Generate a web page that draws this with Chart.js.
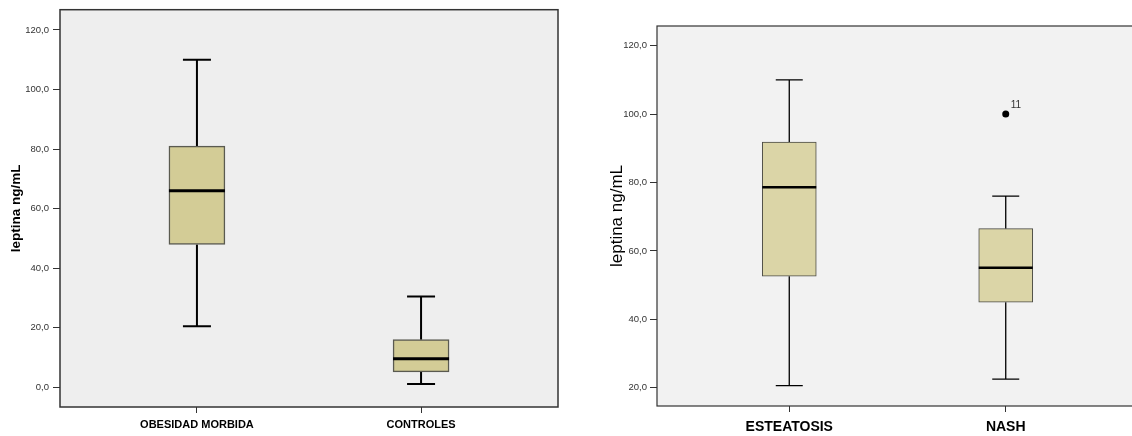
<!DOCTYPE html>
<html>
<head>
<meta charset="utf-8">
<script src="https://cdn.jsdelivr.net/npm/chart.js@4/dist/chart.umd.min.js"></script>
<style>
  html, body { margin: 0; padding: 0; background: #fff; overflow: hidden; width: 1132px; height: 436px; }
  canvas { position: absolute; top: 0; }
  #left { left: 0; }
  #right { left: 566px; }
</style>
</head>
<body>
<canvas id="left" width="566" height="436"></canvas>
<canvas id="right" width="580" height="436"></canvas>
<script>
// Leptin (ng/mL) by group: morbid obesity vs controls
const leftCategories = ['OBESIDAD MORBIDA', 'CONTROLES'];
const leftMin    = [20.5, 1.1];
const leftQ1     = [48.0, 5.2];
const leftMedian = [66.0, 9.6];
const leftQ3     = [81.0, 16.0];
const leftMax    = [110.0, 30.5];
const leftTicks  = [0, 20, 40, 60, 80, 100, 120];

// Leptin (ng/mL) by liver histology: steatosis vs NASH
const rightCategories = ['ESTEATOSIS', 'NASH'];
const rightMin    = [20.6, 22.5];
const rightQ1     = [52.6, 45.0];
const rightMedian = [78.6, 55.1];
const rightQ3     = [91.8, 66.5];
const rightMax    = [110.0, 76.0];
const rightTicks  = [20, 40, 60, 80, 100, 120];

// outlying cases (category index, value, case number)
const rightOutlierCategory = [1];
const rightOutlierValue    = [100.0];
const rightOutlierCase     = ['11'];

const axisTitle = 'leptina ng/mL';
const fmt = v => v.toFixed(1).replace('.', ',');

function boxChart(canvasId, s) {
  const boxes = s.categories.map((c, i) => ({ x: i, y: [s.q1[i], s.q3[i]] }));
  const outliers = (s.outCat || []).map((c, i) => ({ x: c, y: s.outVal[i] }));

  const boxPlugin = {
    id: 'boxParts',
    beforeDraw(chart) {
      const a = chart.chartArea, ctx = chart.ctx;
      ctx.save();
      ctx.fillStyle = s.plotBg;
      ctx.fillRect(a.left, a.top, a.right - a.left, a.bottom - a.top);
      ctx.restore();
    },
    beforeDatasetsDraw(chart) {
      const x = chart.scales.x, y = chart.scales.y, ctx = chart.ctx;
      ctx.save();
      ctx.strokeStyle = '#000';
      ctx.lineWidth = s.whiskerWidth;
      s.categories.forEach((c, i) => {
        const px = x.getPixelForValue(i);
        const half = s.capWidth / 2;
        const yMin = y.getPixelForValue(s.min[i]);
        const yMax = y.getPixelForValue(s.max[i]);
        ctx.beginPath();
        ctx.moveTo(px, y.getPixelForValue(s.q3[i])); ctx.lineTo(px, yMax);
        ctx.moveTo(px, y.getPixelForValue(s.q1[i])); ctx.lineTo(px, yMin);
        ctx.moveTo(px - half, yMax); ctx.lineTo(px + half, yMax);
        ctx.moveTo(px - half, yMin); ctx.lineTo(px + half, yMin);
        ctx.stroke();
      });
      ctx.restore();
    },
    afterDatasetsDraw(chart) {
      const x = chart.scales.x, y = chart.scales.y, ctx = chart.ctx, a = chart.chartArea;
      ctx.save();
      ctx.strokeStyle = '#000';
      ctx.lineWidth = s.medianWidth;
      s.categories.forEach((c, i) => {
        const px = x.getPixelForValue(i);
        const half = s.boxWidth / 2;
        const py = y.getPixelForValue(s.median[i]);
        ctx.beginPath();
        ctx.moveTo(px - half, py); ctx.lineTo(px + half, py);
        ctx.stroke();
      });
      // case labels beside outliers
      ctx.fillStyle = '#333';
      ctx.font = '10px "Liberation Sans", Arial, sans-serif';
      ctx.textAlign = 'left';
      ctx.textBaseline = 'middle';
      (s.outCat || []).forEach((c, i) => {
        ctx.fillText(s.outCase[i], x.getPixelForValue(c) + 5, y.getPixelForValue(s.outVal[i]) - 9);
      });
      // plot frame
      ctx.strokeStyle = s.frameColor;
      ctx.lineWidth = s.frameWidth;
      ctx.strokeRect(a.left, a.top, a.right - a.left, a.bottom - a.top);
      ctx.restore();
    }
  };

  return new Chart(document.getElementById(canvasId), {
    type: 'bar',
    data: {
      datasets: [
        {
          data: boxes,
          backgroundColor: s.boxFill,
          borderColor: s.boxBorder,
          borderWidth: s.boxBorderWidth,
          borderSkipped: false,
          barThickness: s.boxWidth,
          grouped: false
        },
        {
          type: 'scatter',
          data: outliers,
          pointRadius: 3.5,
          pointBackgroundColor: '#000',
          pointBorderWidth: 0,
          showLine: false
        }
      ]
    },
    options: {
      responsive: false,
      animation: false,
      devicePixelRatio: 1,
      layout: { padding: s.padding },
      plugins: { legend: { display: false }, tooltip: { enabled: false } },
      scales: {
        x: {
          type: 'linear',
          offset: false,
          min: -0.611, max: 1.611,
          afterBuildTicks: sc => { sc.ticks = s.categories.map((c, i) => ({ value: i })); },
          afterFit: sc => { sc.height = s.xHeight; },
          grid: { offset: false, drawOnChartArea: false, drawTicks: true, tickLength: 6, tickColor: '#333', tickWidth: 1 },
          border: { display: false },
          ticks: {
            callback: v => s.categories[v],
            autoSkip: false,
            maxRotation: 0,
            padding: s.xPad,
            color: '#000',
            font: { family: '"Liberation Sans", Arial, sans-serif', size: s.xFont, weight: 'bold' }
          }
        },
        y: {
          min: s.yMin, max: s.yMax,
          afterBuildTicks: sc => { sc.ticks = s.ticks.map(v => ({ value: v })); },
          afterFit: sc => { sc.width = s.yWidth; },
          grid: { drawOnChartArea: false, drawTicks: true, tickLength: s.yTickLen, tickColor: '#333', tickWidth: 1 },
          border: { display: false },
          ticks: {
            callback: v => fmt(v),
            padding: s.yPad,
            color: '#333',
            font: { family: '"Liberation Sans", Arial, sans-serif', size: 9.5 }
          },
          title: {
            display: true,
            text: axisTitle,
            color: '#000',
            padding: { top: s.titlePad, bottom: 0 },
            font: { family: '"Liberation Sans", Arial, sans-serif', size: s.titleFont, weight: s.titleWeight }
          }
        }
      }
    },
    plugins: [boxPlugin]
  });
}

boxChart('left', {
  categories: leftCategories, min: leftMin, q1: leftQ1, median: leftMedian, q3: leftQ3, max: leftMax,
  ticks: leftTicks, yMin: -6.6, yMax: 126.8,
  padding: { left: 0, top: 9, right: 8, bottom: 0 }, yWidth: 60, xHeight: 29,
  plotBg: '#eeeeee', boxFill: '#d3cc96', boxBorder: '#5a5a50', boxBorderWidth: 1.5,
  boxWidth: 56, capWidth: 28, whiskerWidth: 2, medianWidth: 3,
  frameColor: '#333', frameWidth: 1.5,
  xFont: 11, xPad: 5, yTickLen: 7, yPad: 4,
  titleFont: 13.5, titleWeight: 'bold', titlePad: 8
});

boxChart('right', {
  categories: rightCategories, min: rightMin, q1: rightQ1, median: rightMedian, q3: rightQ3, max: rightMax,
  outCat: rightOutlierCategory, outVal: rightOutlierValue, outCase: rightOutlierCase,
  ticks: rightTicks, yMin: 14.65, yMax: 125.76,
  padding: { left: 0, top: 26, right: 8, bottom: 0 }, yWidth: 91, xHeight: 30,
  plotBg: '#f2f2f2', boxFill: '#dbd5a7', boxBorder: '#4a4a44', boxBorderWidth: 1,
  boxWidth: 54, capWidth: 27, whiskerWidth: 1.3, medianWidth: 2.5,
  frameColor: '#333', frameWidth: 1.2,
  xFont: 14, xPad: 7, yTickLen: 7, yPad: 3,
  titleFont: 17, titleWeight: 'normal', titlePad: 40.8
});
</script>
</body>
</html>
